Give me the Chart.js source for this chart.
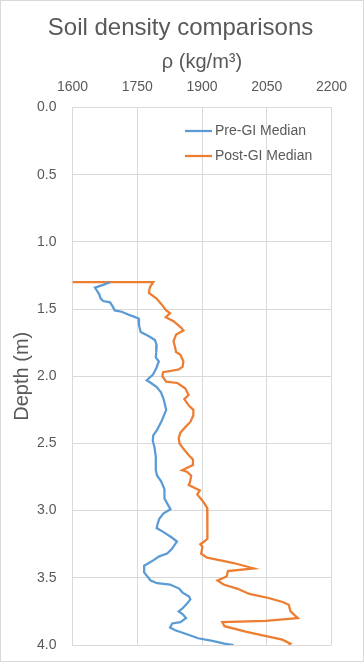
<!DOCTYPE html>
<html>
<head>
<meta charset="utf-8">
<style>
  html, body { margin: 0; padding: 0; background: #ffffff; }
  canvas { display: block; }
</style>
<script src="https://cdn.jsdelivr.net/npm/chart.js@4.4.1/dist/chart.umd.min.js"></script>
</head>
<body>
<canvas id="c" width="364" height="662"></canvas>
<script>
// ---- Data ----
const seriesNames = ['Pre-GI Median', 'Post-GI Median'];

const preDepth = [1.30,1.32,1.34,1.36,1.39,1.42,1.44,1.45,1.48,1.51,1.52,1.54,1.56,1.57,1.62,1.67,1.70,1.73,1.77,1.82,
  1.86,1.89,1.94,1.99,2.03,2.05,2.08,2.12,2.17,2.25,2.33,2.40,2.44,2.48,2.53,2.60,2.70,2.74,2.78,2.84,
  2.91,2.95,2.99,3.02,3.06,3.10,3.13,3.16,3.20,3.23,3.29,3.32,3.34,3.37,3.41,3.46,3.52,3.54,3.55,3.58,
  3.61,3.64,3.66,3.69,3.73,3.75,3.77,3.80,3.83,3.84,3.87,3.89,3.92,3.95,3.97,3.99,4.00];
const preDensity = [1687,1671,1652,1656,1662,1665,1671,1687,1693,1698,1714,1729,1745,1753,1754,1758,1776,1791,1795,1794,
  1793,1800,1794,1786,1772,1782,1795,1805,1811,1817,1807,1796,1787,1786,1790,1793,1793,1796,1805,1813,
  1813,1820,1827,1811,1801,1797,1795,1811,1830,1842,1829,1819,1801,1787,1766,1766,1781,1796,1826,1847,
  1855,1870,1873,1866,1854,1846,1855,1863,1850,1831,1826,1838,1865,1891,1924,1952,1973];

const postDepth = [1.30,1.30,1.34,1.38,1.42,1.46,1.51,1.53,1.56,1.59,1.64,1.66,1.69,1.74,1.79,1.82,1.84,1.89,1.93,1.95,
  1.97,2.00,2.04,2.05,2.09,2.14,2.17,2.22,2.25,2.29,2.34,2.38,2.42,2.46,2.50,2.54,2.59,2.62,2.66,2.70,
  2.71,2.74,2.79,2.81,2.85,2.88,2.93,2.98,3.06,3.10,3.15,3.21,3.23,3.25,3.27,3.32,3.35,3.37,3.39,3.41,
  3.43,3.45,3.49,3.52,3.55,3.58,3.62,3.65,3.68,3.70,3.75,3.80,3.82,3.83,3.86,3.90,3.93,3.96,3.99,4.00];
const postDensity = [1600,1787,1779,1777,1794,1805,1817,1826,1816,1834,1852,1857,1840,1834,1838,1840,1850,1857,1855,1846,
  1810,1808,1817,1843,1861,1869,1859,1870,1880,1880,1873,1861,1850,1846,1848,1857,1870,1879,1879,1854,
  1865,1875,1872,1869,1895,1889,1902,1912,1913,1913,1912,1912,1905,1896,1901,1898,1912,1943,1973,1997,
  2020,1960,1957,1936,1950,1981,2010,2054,2087,2101,2105,2122,2047,1947,1952,2001,2043,2086,2105,2101];

const xTickValues = [1600, 1750, 1900, 2050, 2200];
const yTickValues = [0.0, 0.5, 1.0, 1.5, 2.0, 2.5, 3.0, 3.5, 4.0];

// ---- Build ----
function pts(xs, ys) { return xs.map((x, i) => ({ x: x, y: ys[i] })); }

const TEXT = '#595959';
const GRID = '#d9d9d9';
Chart.defaults.font.family = "'Liberation Sans', Arial, sans-serif";
Chart.defaults.color = TEXT;

const TOP_PLOT = 107.5;
const TITLE_PAD_TOP = 13.6;
const TITLE_BLOCK = TITLE_PAD_TOP + 24 * 1.2;

const bgAndFrame = {
  id: 'bgAndFrame',
  beforeDraw(chart) {
    const { ctx, width, height } = chart;
    ctx.save();
    ctx.fillStyle = '#ffffff';
    ctx.fillRect(0, 0, width, height);
    ctx.restore();
  },
  afterDraw(chart) {
    const { ctx, width, height } = chart;
    ctx.save();
    ctx.strokeStyle = GRID;
    ctx.lineWidth = 1;
    ctx.strokeRect(0.5, 0.5, width - 1, height - 1);
    ctx.restore();
  }
};

const insideLegend = {
  id: 'insideLegend',
  afterDatasetsDraw(chart, args, opts) {
    const { ctx, chartArea } = chart;
    ctx.save();
    ctx.font = opts.fontSize + "px 'Liberation Sans', Arial, sans-serif";
    ctx.fillStyle = TEXT;
    ctx.textBaseline = 'middle';
    ctx.textAlign = 'left';
    chart.data.datasets.forEach((ds, i) => {
      const y = chartArea.top + opts.top + i * opts.rowHeight;
      const x = chartArea.left + opts.left;
      ctx.strokeStyle = ds.borderColor;
      ctx.lineWidth = ds.borderWidth;
      ctx.beginPath();
      ctx.moveTo(x, y);
      ctx.lineTo(x + opts.lineLength, y);
      ctx.stroke();
      ctx.fillText(ds.label, x + opts.lineLength + opts.gap, y);
    });
    ctx.restore();
  }
};

new Chart(document.getElementById('c'), {
  type: 'scatter',
  data: {
    datasets: [
      {
        label: seriesNames[0],
        data: pts(preDensity, preDepth),
        showLine: true,
        borderColor: '#5b9bd5',
        backgroundColor: '#5b9bd5',
        borderWidth: 2.25,
        pointRadius: 0,
        pointHoverRadius: 0,
        tension: 0
      },
      {
        label: seriesNames[1],
        data: pts(postDensity, postDepth),
        showLine: true,
        borderColor: '#ed7d31',
        backgroundColor: '#ed7d31',
        borderWidth: 2.25,
        pointRadius: 0,
        pointHoverRadius: 0,
        tension: 0
      }
    ]
  },
  options: {
    responsive: false,
    animation: false,
    events: [],
    layout: { padding: { left: 0, right: 3, top: 0, bottom: 17 } },
    plugins: {
      legend: { display: false },
      tooltip: { enabled: false },
      title: {
        display: true,
        text: 'Soil density comparisons',
        color: TEXT,
        font: { size: 24, weight: 'normal' },
        padding: { top: TITLE_PAD_TOP, bottom: 0 }
      },
      insideLegend: { fontSize: 14, top: 23.5, rowHeight: 25, left: 112.5, lineLength: 27, gap: 3 }
    },
    scales: {
      x: {
        type: 'linear',
        position: 'top',
        min: 1600,
        max: 2200,
        afterBuildTicks(scale) { scale.ticks = xTickValues.map(v => ({ value: v })); },
        afterFit(scale) { scale.height = TOP_PLOT - TITLE_BLOCK; scale.paddingLeft = 0; scale.paddingRight = 0; },
        ticks: { font: { size: 14 }, color: TEXT, padding: 12.2, maxRotation: 0, autoSkip: false,
          callback: v => String(v) },
        grid: { color: GRID, lineWidth: 1, drawTicks: false },
        border: { display: true, color: GRID, width: 1 },
        title: { display: true, text: 'ρ (kg/m³)', color: TEXT, font: { size: 20 }, padding: { top: 7.6, bottom: 0 } }
      },
      y: {
        type: 'linear',
        position: 'left',
        reverse: true,
        min: 0,
        max: 4,
        afterBuildTicks(scale) { scale.ticks = yTickValues.map(v => ({ value: v })); },
        afterFit(scale) { scale.width = 72.5; scale.paddingTop = 0; scale.paddingBottom = 0; },
        ticks: { font: { size: 14 }, color: TEXT, padding: 16, autoSkip: false,
          callback: v => Number(v).toFixed(1) },
        grid: { color: GRID, lineWidth: 1, drawTicks: false },
        border: { display: true, color: GRID, width: 1 },
        title: { display: true, text: 'Depth (m)', color: TEXT, font: { size: 20 }, padding: { top: 10, bottom: 0 } }
      },
      yRightSpace: {
        type: 'linear',
        position: 'right',
        display: true,
        min: 0,
        max: 4,
        afterFit(scale) { scale.width = 29.5; },
        ticks: { display: false },
        grid: { display: false, drawTicks: false },
        border: { display: false },
        title: { display: false }
      }
    }
  },
  plugins: [bgAndFrame, insideLegend]
});
</script>
</body>
</html>
